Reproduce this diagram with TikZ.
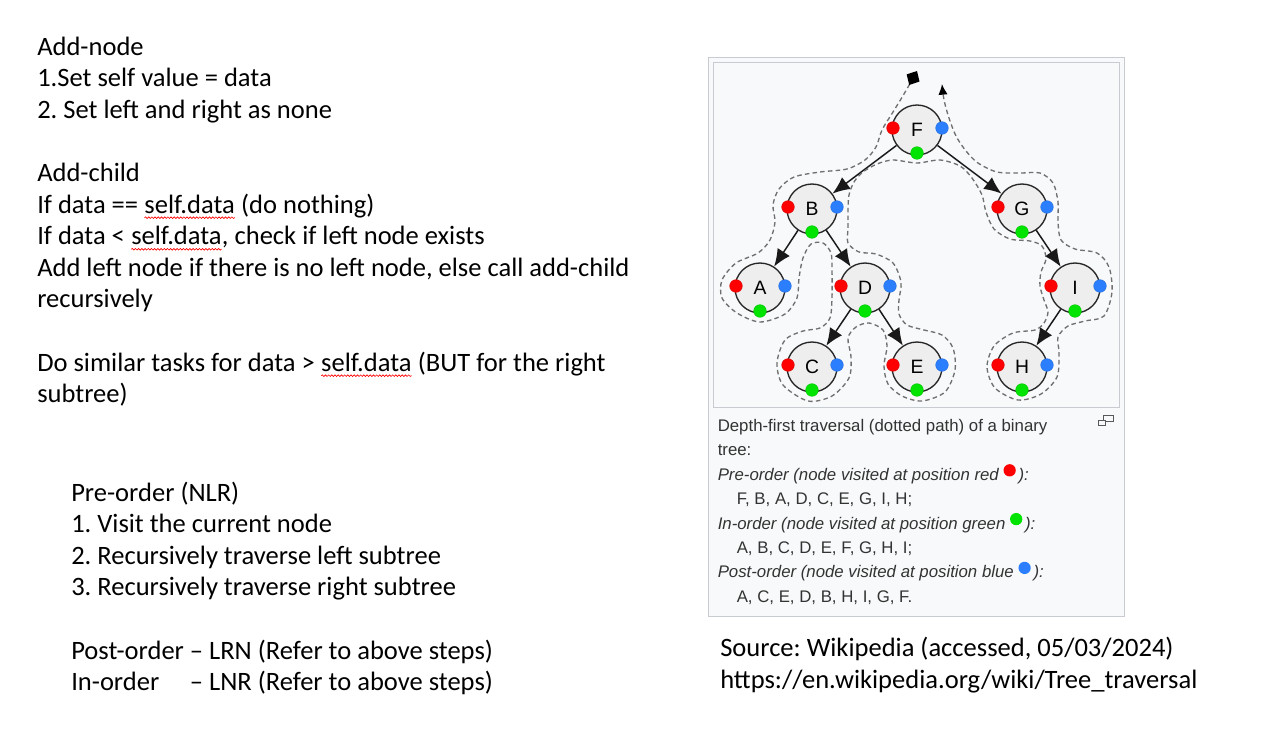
\documentclass[tikz,border=0pt]{standalone}
\usepackage{fontspec}
\setmainfont{Carlito}
\newfontfamily\wikifont{Liberation Sans}
\usetikzlibrary{arrows.meta,decorations.pathmorphing}
\frenchspacing

\definecolor{wikiback}{HTML}{F8F9FA}
\definecolor{wikiframe}{HTML}{C8CCD1}
\definecolor{wikitext}{HTML}{333333}
\definecolor{nodefill}{HTML}{EEEEEE}
\definecolor{dotred}{HTML}{FF0000}
\definecolor{dotgreen}{HTML}{00E400}
\definecolor{dotblue}{HTML}{2B7FFF}
\definecolor{pathgray}{HTML}{707070}

\tikzset{
  slidetext/.style={anchor=base west, inner sep=0pt, font=\fontsize{19.9}{23}\selectfont},
  captext/.style={anchor=base west, inner sep=0pt, text=wikitext, font=\wikifont\fontsize{12.6}{15}\selectfont},
  treenode/.style={circle, draw=black!85, line width=1pt, fill=nodefill, minimum size=37.5pt, inner sep=0pt, font=\wikifont\fontsize{14.5}{16}\selectfont},
  treeedge/.style={draw=black!90, line width=1.1pt, -{Latex[length=13pt,width=11pt]}},
  visit/.style={circle, fill=#1, draw=#1!85!black, line width=0.3pt, inner sep=0pt, minimum size=9.5pt},
  walk/.style={pathgray, line width=1pt, dash pattern=on 3.4pt off 2.4pt},
}

\newcommand\spellmark[1]{\tikz[baseline=(sw.base)]{\node[inner sep=0pt,outer sep=0pt](sw){#1};
  \draw[red, line width=0.5pt, decorate, decoration={snake, amplitude=0.6pt, segment length=2.4pt}]
    ([yshift=-3.5pt]sw.base west) -- ([yshift=-3.5pt]sw.base east);}}
\newcommand\capdot[1]{\tikz[baseline=-7.5pt]\fill[#1] (0,0) circle (4.6pt);\,}

\begin{document}
\begin{tikzpicture}[x=0.75pt,y=-0.75pt]
  \useasboundingbox (0,0) rectangle (1279,754);
  \fill[white] (0,0) rectangle (1279,754);

  % slide notes
  \node[slidetext] (addnode) at (37,55) {Add-node};
  \node[slidetext] (setvalue) at (37,86.6) {1.Set self value = data};
  \node[slidetext] (setnone) at (37,118.2) {2. Set left and right as none};
  \node[slidetext] (addchild) at (37,181.4) {Add-child};
  \node[slidetext] (ifequal) at (37,213) {If data == \spellmark{self.data} (do nothing)};
  \node[slidetext] (ifless) at (37,244.6) {If data < \spellmark{self.data}, check if left node exists};
  \node[slidetext] (addleft) at (37,276.2) {Add left node if there is no left node, else call add-child};
  \node[slidetext] (recurse) at (37,307.8) {recursively};
  \node[slidetext] (similar) at (37,371) {Do similar tasks for data > \spellmark{self.data} (BUT for the right};
  \node[slidetext] (subtree) at (37,402.6) {subtree)};

  \node[slidetext] (preorder) at (71,501) {Pre-order (NLR)};
  \node[slidetext] (stepone) at (71,532.6) {1. Visit the current node};
  \node[slidetext] (steptwo) at (71,564.2) {2. Recursively traverse left subtree};
  \node[slidetext] (stepthree) at (71,595.8) {3. Recursively traverse right subtree};
  \node[slidetext] (postorder) at (71,659) {Post-order -- LRN (Refer to above steps)};
  \node[slidetext] (inorder) at (71,690.6) {\rlap{In-order}\phantom{Post-order }-- LNR (Refer to above steps)};

  \node[slidetext] (source) at (720,656) {Source: Wikipedia (accessed, 05/03/2024)};
  \node[slidetext] (url) at (720,688) {https://en.wikipedia.org/wiki/Tree\_traversal};

  % wikipedia figure
  \draw[wikiframe, fill=wikiback] (708,57) rectangle (1124,616);
  \draw[wikiframe, fill=wikiback] (713,62) rectangle (1119,407);
  \draw[black!65, line width=0.6pt] (1103,415) rectangle (1113,421);
  \draw[black!65, line width=0.6pt, fill=wikiback] (1098,420) rectangle (1105,425);

  \foreach \name/\x/\y in {F/917/130, B/812/209, G/1022/209, A/760/288, D/865/288,
                          I/1075/288, C/812/367, E/917/367, H/1022/367}
    \node[treenode] (\name) at (\x,\y) {\name};

  \foreach \from/\to in {F/B, F/G, B/A, B/D, D/C, D/E, G/I, I/H}
    \draw[treeedge] (\from) -- (\to);

  \foreach \name in {F,B,G,A,D,I,C,E,H} {
    \node[visit=dotred] (\name-pre) at ([xshift=-18pt,yshift=1.5pt]\name.center) {};
    \node[visit=dotgreen] (\name-in) at ([yshift=-17.25pt]\name.center) {};
    \node[visit=dotblue] (\name-post) at ([xshift=18.75pt,yshift=1.5pt]\name.center) {};
  }

  % dotted walk round the tree
  \draw[walk, {Diamond[length=12pt,width=11pt,color=black]}-{Latex[length=8pt,width=7pt,color=black]}]
    plot[smooth, tension=0.5] coordinates {
      (917,71) (904,94) (893,112) (882,130) (876,147) (865,160) (847,169) (820,172)
      (794,177) (779,189) (773,205) (775,222) (770,240) (758,253) (736,263) (722,280)
      (722,298) (737,313) (760,322) (785,314) (797,298) (799,278) (803,258) (811,244)
      (823,243) (831,253) (832,270) (832,297) (830,318) (820,328) (803,331) (785,340)
      (777,363) (783,385) (808,401) (832,396) (849,378) (851,357) (848,338) (856,327)
      (869,323) (883,330) (887,346) (884,366) (888,384) (902,396) (922,401) (945,392)
      (955,370) (953,348) (942,335) (924,330) (907,325) (899,314) (899,300) (901,282)
      (893,263) (876,254) (859,252) (848,243) (848,228) (848,210) (849,195) (854,182)
      (863,172) (877,164) (893,160) (917,163) (940,160) (960,166) (972,178) (982,195)
      (986,212) (994,229) (1010,239) (1030,241) (1042,246) (1046,259) (1041,272) (1040,286)
      (1044,300) (1048,312) (1044,323) (1035,330) (1013,333) (994,346) (987,367) (995,388)
      (1018,400) (1041,394) (1057,377) (1059,353) (1058,337) (1068,326) (1085,321) (1104,316)
      (1112,292) (1109,267) (1097,253) (1075,249) (1061,240) (1058,222) (1058,202) (1053,183)
      (1040,173) (1020,173) (997,172) (978,163) (966,151) (956,136) (949,118) (944,100) (942,84)};

  % caption
  \node[captext] (cap1) at (717.5,431.5) {Depth-first traversal (dotted path) of a binary};
  \node[captext] (cap2) at (717.5,455.9) {tree:};
  \node[captext] (cap3) at (717.5,480.3) {\itshape Pre-order (node visited at position red \capdot{dotred}):};
  \node[captext] (cap4) at (736.5,504.7) {F, B, A, D, C, E, G, I, H;};
  \node[captext] (cap5) at (717.5,529.1) {\itshape In-order (node visited at position green \capdot{dotgreen}):};
  \node[captext] (cap6) at (736.5,553.5) {A, B, C, D, E, F, G, H, I;};
  \node[captext] (cap7) at (717.5,577.9) {\itshape Post-order (node visited at position blue \capdot{dotblue}):};
  \node[captext] (cap8) at (736.5,602.3) {A, C, E, D, B, H, I, G, F.};
\end{tikzpicture}
\end{document}
